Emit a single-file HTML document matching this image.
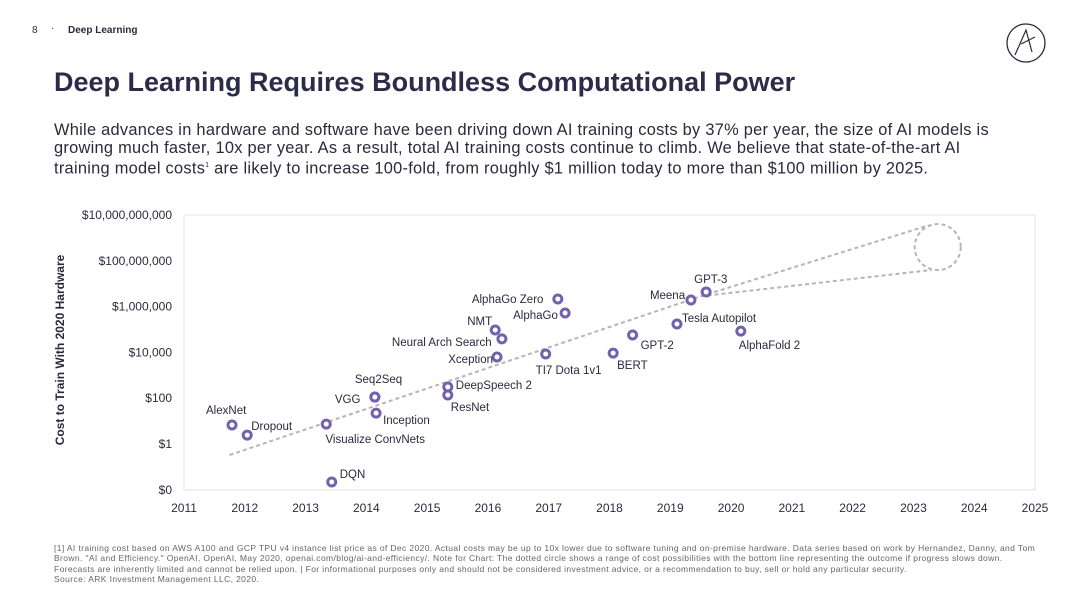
<!DOCTYPE html>
<html><head><meta charset="utf-8"><style>
body{margin:0;width:1080px;height:607px;background:#fff;font-family:"Liberation Sans",sans-serif;color:#2b2a3d;position:relative;overflow:hidden}
.abs{position:absolute}
.fn div{white-space:nowrap}
</style></head><body>
<div class="abs" style="left:32px;top:25px;font-size:10px">8</div>
<div class="abs" style="left:51px;top:23px;font-size:10px">·</div>
<div class="abs" style="left:68px;top:25px;font-size:10px;font-weight:bold">Deep Learning</div>
<svg class="abs" style="left:1005px;top:22px" width="42" height="42"><circle cx="21" cy="21" r="19" fill="none" stroke="#2b2a3d" stroke-width="1.3"/><path d="M10 33 L21 8 L27 30 M16 22 L30 15" stroke="#2b2a3d" fill="none" stroke-width="1.2"/></svg>
<div class="abs" style="left:54px;top:67px;font-size:27px;font-weight:bold;color:#2d2b48;white-space:nowrap">Deep Learning Requires Boundless Computational Power</div>
<div class="abs" style="left:54px;top:121px;font-size:16.4px;letter-spacing:0.27px;line-height:18px;white-space:nowrap">While advances in hardware and software have been driving down AI training costs by 37% per year, the size of AI models is<br>growing much faster, 10x per year. As a result, total AI training costs continue to climb. We believe that state-of-the-art AI<br>training model costs<sup style="font-size:7px">1</sup> are likely to increase 100-fold, from roughly $1 million today to more than $100 million by 2025.</div>
<div class="abs fn" style="left:54px;top:543px;font-size:8.5px;line-height:10.3px;color:#666;letter-spacing:0.38px">
<div>[1] AI training cost based on AWS A100 and GCP TPU v4 instance list price as of Dec 2020. Actual costs may be up to 10x lower due to software tuning and on-premise hardware. Data series based on work by Hernandez, Danny, and Tom</div>
<div>Brown. "AI and Efficiency." OpenAI, OpenAI, May 2020, openai.com/blog/ai-and-efficiency/. Note for Chart: The dotted circle shows a range of cost possibilities with the bottom line representing the outcome if progress slows down.</div>
<div>Forecasts are inherently limited and cannot be relied upon. | For informational purposes only and should not be considered investment advice, or a recommendation to buy, sell or hold any particular security.</div>
<div>Source: ARK Investment Management LLC, 2020.</div></div>
<svg id="chart" class="abs" style="left:0;top:0" width="1080" height="607"></svg>
<script>
const years=[2011,2012,2013,2014,2015,2016,2017,2018,2019,2020,2021,2022,2023,2024,2025];
const yTickLogs=[-2,0,2,4,6,8,10];
const yTickLabels=["$0","$1","$100","$10,000","$1,000,000","$100,000,000","$10,000,000,000"];
const names=["AlexNet","Dropout","Visualize ConvNets","DQN","VGG","Seq2Seq","Inception","DeepSpeech 2","ResNet","Xception","NMT","Neural Arch Search","AlphaGo Zero","AlphaGo","TI7 Dota 1v1","BERT","GPT-2","Tesla Autopilot","Meena","GPT-3","AlphaFold 2"];
const pointYears=[2011.79,2012.04,2013.34,2013.43,2014.14,2014.14,2014.16,2015.34,2015.34,2016.15,2016.12,2016.23,2017.15,2017.27,2016.95,2018.06,2018.38,2019.11,2019.34,2019.59,2020.16];
const pointLogCost=[0.83,0.39,0.87,-1.66,2.05,2.05,1.35,2.49,2.14,3.80,4.98,4.59,6.33,5.72,3.93,3.97,4.76,5.24,6.29,6.64,4.93];
const trendYears=[2011.75,2019.5];const trendLogs=[-0.48,6.45];
const upperYears=[2019.5,2023.25];const upperLogs=[6.45,9.55];
const lowerYears=[2019.5,2023.3];const lowerLogs=[6.45,7.6];
const forecastYear=2023.4, forecastLog=8.6;
// label placement (styling)
const labelDx=[-26,4,49,8,-40,-20,7,8,3,-4,-28,-110,-86,-52,-10,4,8,5,-41,-12,-2];
const labelDy=[-11,-5,19,-4,6,-14,11,2,16,6,-5,7,4,6,20,16,14,-2,-1,-9,18];
const labelAnchor=["start","start","middle","start","start","start","start","start","start","end","start","start","start","start","start","start","start","start","start","start","start"];
const L=184,R=1035,T=215,B=490;
const x=v=>L+(v-2011)*(R-L)/14;
const y=v=>444-v*22.9;
const svg=document.getElementById('chart');const NS='http://www.w3.org/2000/svg';
function mk(t,a,p){const e=document.createElementNS(NS,t);for(const k in a)e.setAttribute(k,a[k]);(p||svg).appendChild(e);return e;}
let e=mk('rect',{x:L,y:T,width:R-L,height:B-T,fill:'none',stroke:'#e3e3e3'});


years.forEach(yr=>{const t=mk('text',{x:x(yr),y:512,'text-anchor':'middle','font-size':12,fill:'#2b2a3d'});t.textContent=yr;

});
yTickLogs.forEach((lv,i)=>{const t=mk('text',{x:172,y:y(lv)+4,'text-anchor':'end','font-size':12,fill:'#2b2a3d'});t.textContent=yTickLabels[i];

});
e=mk('text',{x:64,y:350,'text-anchor':'middle','font-size':12,'font-weight':'bold',fill:'#2b2a3d',transform:'rotate(-90 64 350)'});e.textContent='Cost to Train With 2020 Hardware';


const ds={stroke:'#b5b5b5','stroke-width':2,'stroke-dasharray':'4,3',fill:'none'};
e=mk('line',Object.assign({x1:x(trendYears[0]),y1:y(trendLogs[0]),x2:x(trendYears[1]),y2:y(trendLogs[1])},ds));


e=mk('line',Object.assign({x1:x(upperYears[0]),y1:y(upperLogs[0]),x2:x(upperYears[1]),y2:y(upperLogs[1])},ds));


e=mk('line',Object.assign({x1:x(lowerYears[0]),y1:y(lowerLogs[0]),x2:x(lowerYears[1]),y2:y(lowerLogs[1])},ds));


e=mk('circle',Object.assign({cx:x(forecastYear),cy:y(forecastLog),r:23},ds));


names.forEach((n,i)=>{const cx=x(pointYears[i]),cy=y(pointLogCost[i]);
const c=mk('circle',{cx:cx,cy:cy,r:4,fill:'#fff',stroke:'#7461ad','stroke-width':3});


const t=mk('text',{x:cx+labelDx[i],y:cy+labelDy[i],'text-anchor':labelAnchor[i],'font-size':11.5,fill:'#2b2a3d'});t.textContent=n;

});
</script>
</body></html>
